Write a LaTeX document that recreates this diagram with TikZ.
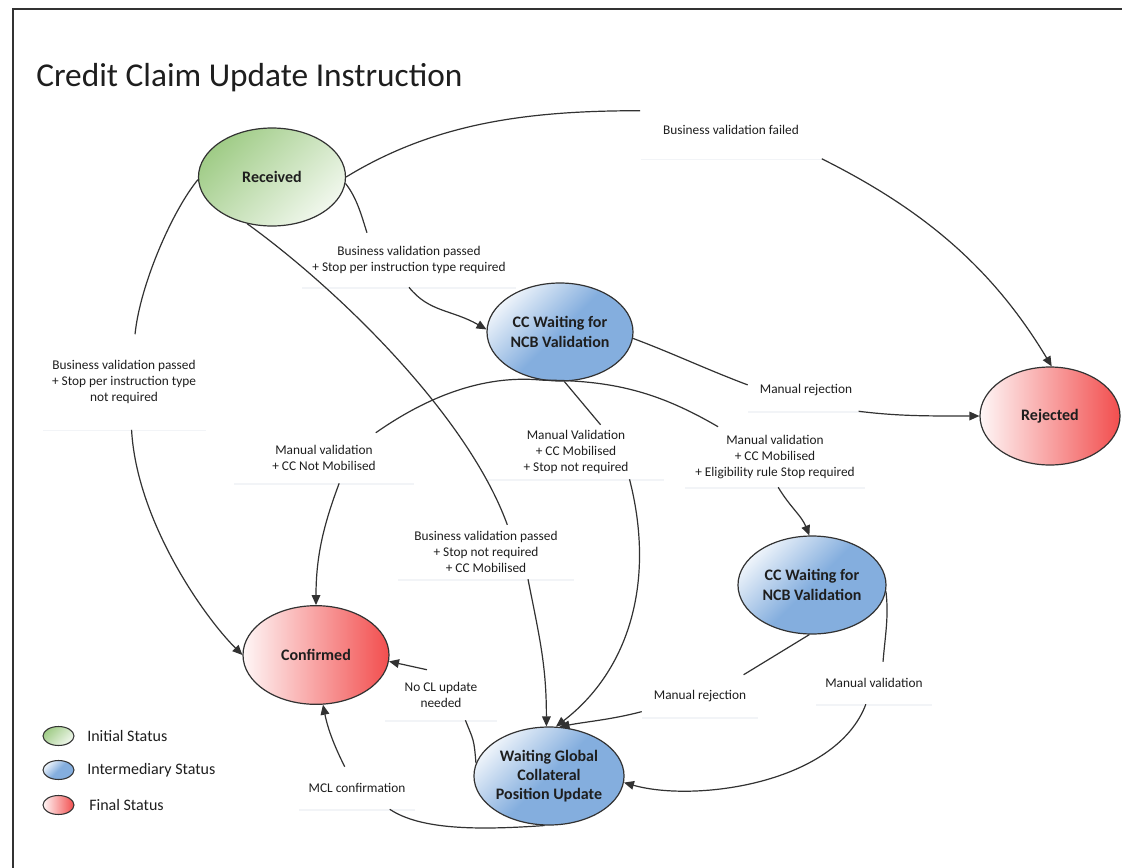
\documentclass[tikz,border=0pt]{standalone}
\usepackage{fontspec}
\setmainfont{Carlito}
\usetikzlibrary{arrows.meta,shapes.geometric,shadows}
\definecolor{grn}{RGB}{160,204,135}
\definecolor{blu}{RGB}{132,174,222}
\definecolor{rd}{RGB}{242,78,78}
\definecolor{edgec}{RGB}{50,50,50}
\definecolor{txt}{RGB}{30,30,30}
\begin{document}
\begin{tikzpicture}[x=0.75pt,y=-0.75pt,
  state/.style={ellipse, draw=edgec, line width=0.9pt, inner sep=0pt, font=\fontsize{12}{14.5}\selectfont\bfseries, text=txt, align=center},
  gstate/.style={state, top color=grn, bottom color=grn!15!white, shading angle=45},
  bstate/.style={state, top color=blu!15!white, bottom color=blu, middle color=blu, shading angle=45},
  rstate/.style={state, left color=rd!5!white, right color=rd},
  lbl/.style={rectangle, fill=white, inner sep=0pt, align=center, font=\fontsize{10}{12}\selectfont, text=txt,
    drop shadow={shadow xshift=0.3pt, shadow yshift=-1.2pt, opacity=0.1, fill=blu!60!gray}},
  conn/.style={draw=edgec, line width=0.9pt},
  arr/.style={conn, -{Triangle[length=7.5pt,width=6.5pt]}},
  leg/.style={font=\fontsize{12}{14}\selectfont, text=txt, anchor=west, inner sep=0pt},
]
\useasboundingbox (0,0) rectangle (1122,868);
\fill[white] (0,0) rectangle (1122,868);
\coordinate (fa) at (13,868);
\coordinate (fb) at (13,9);
\coordinate (fc) at (1122,9);
\draw[draw=edgec, line width=1pt] (fa) -- (fb) -- (fc);

\node[anchor=base west, font=\fontsize{25}{30}\selectfont, text=txt, inner sep=0pt] (title) at (36,86) {Credit Claim Update Instruction};

% labels
\node[lbl, minimum width=135.75pt, minimum height=42.75pt] (bvf) at (731,130) {Business validation failed};
\node[lbl, minimum width=160.5pt, minimum height=40.5pt] (req) at (409,260) {Business validation passed\\+ Stop per instruction type required};
\node[lbl, minimum width=122.25pt, minimum height=71.25pt] (nr) at (124,382) {Business validation passed\\+ Stop per instruction type\\not required};
\node[lbl, minimum width=87pt, minimum height=31.5pt] (mnr) at (806,390) {Manual rejection};
\node[lbl, minimum width=135pt, minimum height=37.5pt] (cnm) at (324,458) {Manual validation\\+ CC Not Mobilised};
\node[lbl, minimum width=132pt, minimum height=40.5pt] (msnr) at (576,452) {Manual Validation\\+ CC Mobilised\\+ Stop not required};
\node[lbl, minimum width=135pt, minimum height=45pt] (elig) at (775,457) {Manual validation\\+ CC Mobilised\\+ Eligibility rule Stop required};
\node[lbl, minimum width=132pt, minimum height=40.5pt] (bsnr) at (486,552) {Business validation passed\\+ Stop not required\\+ CC Mobilised};
\node[lbl, minimum width=84pt, minimum height=37.5pt] (nocl) at (441,695) {No CL update\\needed};
\node[lbl, minimum width=87pt, minimum height=31.5pt] (mr2) at (700,696) {Manual rejection};
\node[lbl, minimum width=87pt, minimum height=31.5pt] (mv2) at (874,683) {Manual validation};
\node[lbl, minimum width=87pt, minimum height=31.5pt] (mcl) at (357,788) {MCL confirmation};

% states
\node[gstate, minimum width=110.25pt, minimum height=73.5pt] (rcv) at (272,177) {Received};
\node[bstate, minimum width=109.5pt, minimum height=73.5pt] (ccw1) at (560,332) {CC Waiting for\\NCB Validation};
\node[rstate, minimum width=105pt, minimum height=73.5pt] (rej) at (1050,416) {Rejected};
\node[bstate, minimum width=111pt, minimum height=73.5pt] (ccw2) at (812,585) {CC Waiting for\\NCB Validation};
\node[rstate, minimum width=109.5pt, minimum height=74pt] (conf) at (316,655) {Confirmed};
\node[bstate, minimum width=111pt, minimum height=73.5pt] (wg) at (549,776) {Waiting Global\\Collateral\\Position Update};

% connectors
\draw[conn] (rcv.0) .. controls +(90,-55) and +(-110,0) .. (bvf.168);
\draw[arr] (bvf.south east) .. controls +(100,50) and +(-60,-100) .. (rej.88);
\draw[conn] (rcv.-5) .. controls +(12,15) and +(-5,-15) .. (req.147);
\draw[arr] (req.south) .. controls +(20,25) and +(-35,-20) .. (ccw1.178);
\draw[conn] (rcv.182) .. controls +(-25,30) and +(5,-50) .. (nr.77);
\draw[arr] (nr.-81) .. controls +(5,90) and +(-40,-40) .. (conf.180);
\draw[conn] (rcv.-118) .. controls +(90,65) and +(-40,-110) .. (bsnr.52);
\draw[arr] (bsnr.-33) .. controls +(12,60) and +(0,-60) .. (wg.93);
\draw[conn] (ccw1.-110) .. controls +(-60,-6) and +(50,-35) .. (cnm.26);
\draw[arr] (cnm.-59) .. controls +(-15,40) and +(0,-50) .. (conf.90);
\draw[conn] (ccw1.-5) .. controls +(40,15) and +(-40,-15) .. (mnr.175);
\draw[arr] (mnr.-22) .. controls +(40,5) and +(-50,0) .. (rej.180);
\draw[conn] (ccw1.-85) -- (msnr.48);
\draw[arr] (msnr.-27) .. controls +(26,101) and +(74,-57) .. (wg.82);
\draw[conn] (ccw1.-110) .. controls +(70,0) and +(-60,-35) .. (elig.152);
\draw[arr] (elig.-84) .. controls +(12,20) and +(-8,-20) .. (ccw2.93);
\draw[conn] (ccw2.-93) -- (mr2.26);
\draw[arr] (mr2.195) .. controls +(-30,8) and +(25,-5) .. (wg.78);
\draw[conn] (ccw2.-5) .. controls +(3,25) and +(2,-25) .. (mv2.67);
\draw[arr] (mv2.-111) .. controls +(-30,80) and +(70,20) .. (wg.-5);
\draw[conn] (wg.170) .. controls +(-2,-25) and +(8,20) .. (nocl.-46);
\draw[arr] (nocl.119) -- (conf.-5);
\draw[conn] (wg.-95) .. controls +(-70,5) and +(30,20) .. (mcl.-33);
\draw[arr] (mcl.120) .. controls +(-10,-20) and +(5,25) .. (conf.-82);

% legend
\node[gstate, line width=0.8pt, minimum width=23.25pt, minimum height=14.25pt] (lg1) at (58.5,736) {};
\node[bstate, line width=0.8pt, minimum width=23.25pt, minimum height=14.25pt] (lg2) at (58.5,770) {};
\node[rstate, line width=0.8pt, minimum width=23.25pt, minimum height=14.25pt] (lg3) at (58.5,805) {};
\node[leg] (lt1) at (87,736) {Initial Status};
\node[leg] (lt2) at (87,770) {Intermediary Status};
\node[leg] (lt3) at (89,805) {Final Status};
\end{tikzpicture}
\end{document}
